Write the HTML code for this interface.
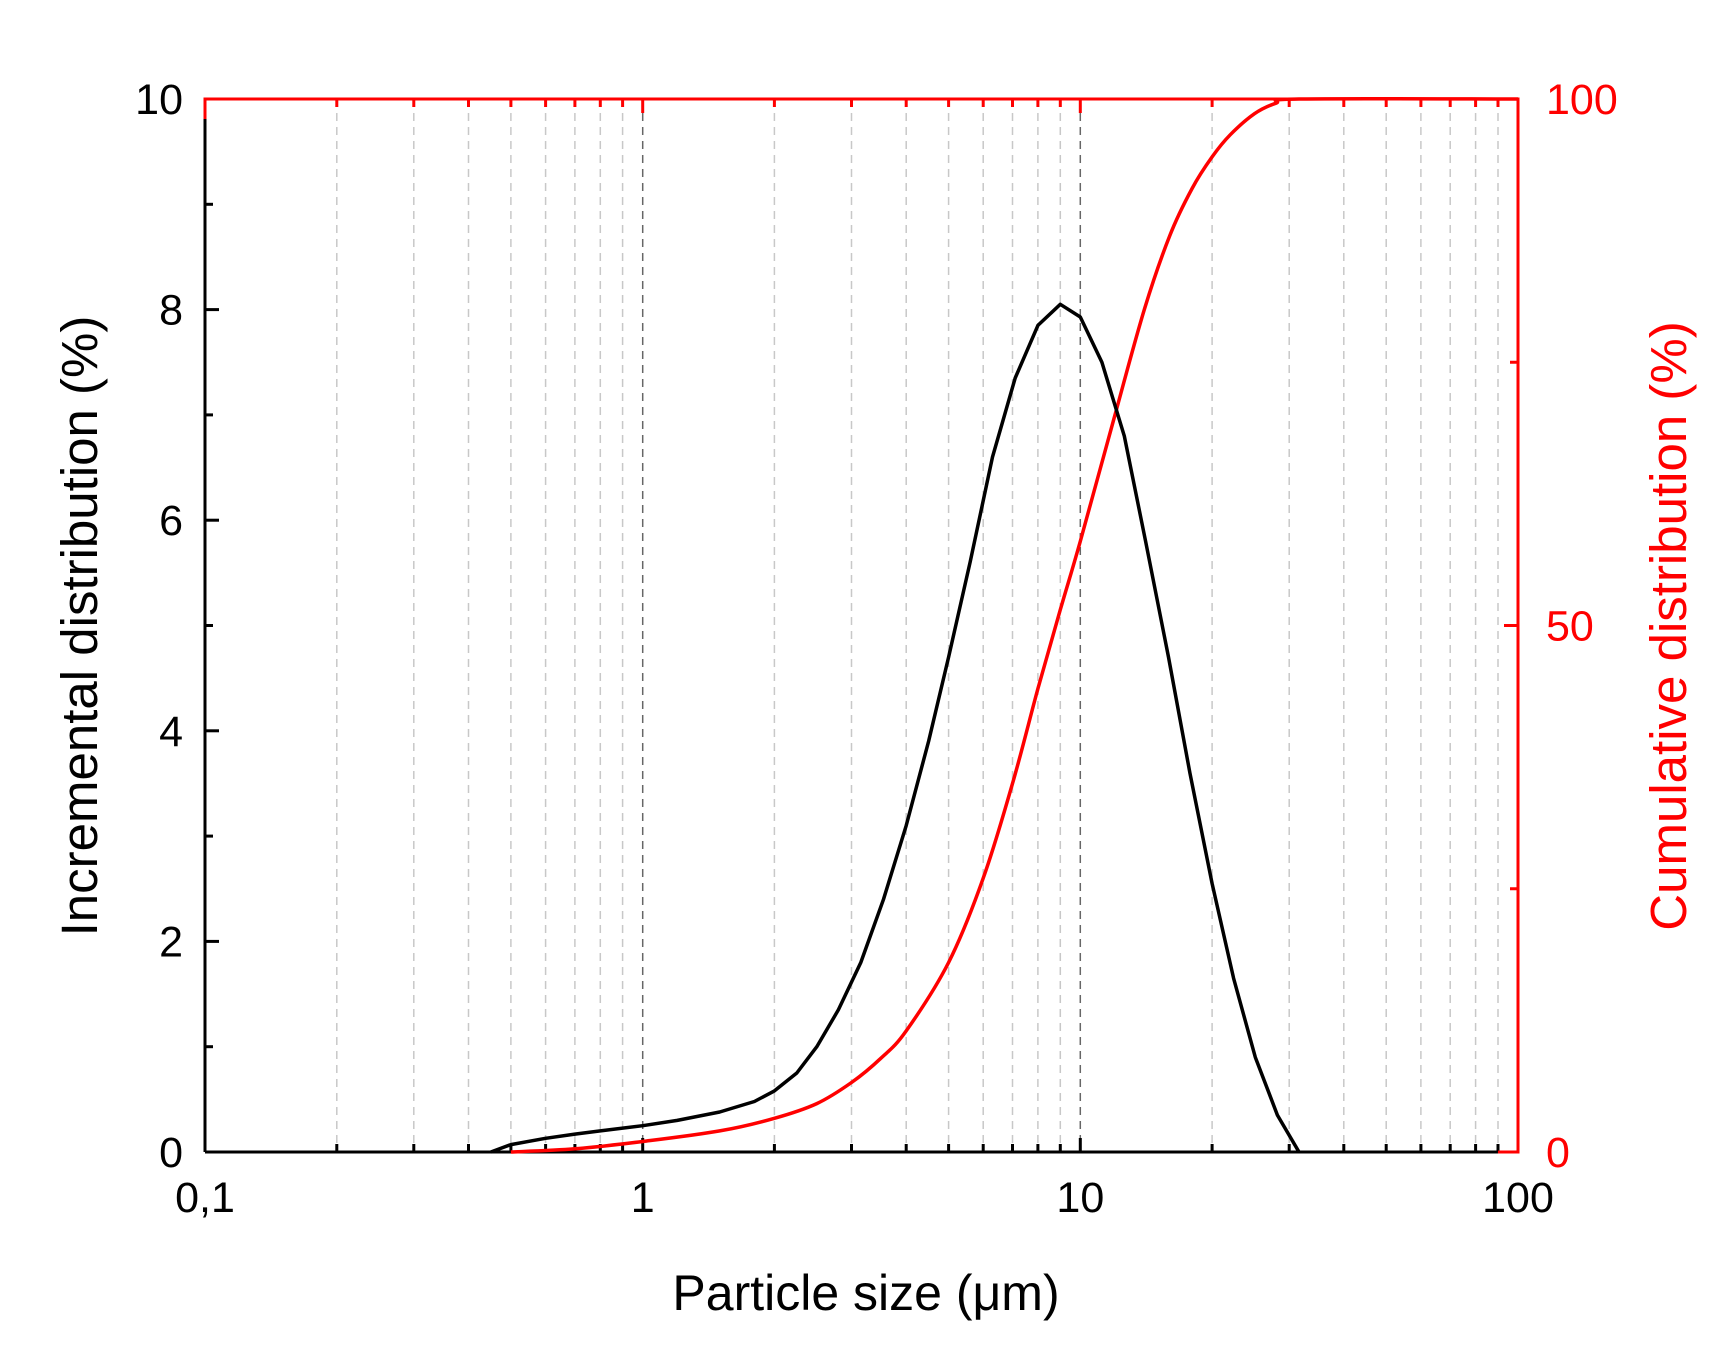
<!DOCTYPE html>
<html><head><meta charset="utf-8"><style>
html,body{margin:0;padding:0;background:#fff;}
svg{display:block;font-family:"Liberation Sans",Arial,sans-serif;}
</style></head><body>
<svg id="s" width="1734" height="1362" viewBox="0 0 1734 1362" xmlns="http://www.w3.org/2000/svg"></svg>
<script>
const L=205,R=1518,T=99,B=1152;
const X=v=>L+(Math.log10(v)+1)*(R-L)/3;
const Y=v=>B-v*(B-T)/10;
const YR=v=>B-v*(B-T)/100;
let h='';
for(let d=0.1;d<100;d*=10){for(let k=1;k<=9;k++){const v=d*k;if(k==1&&d==0.1)continue;const x=X(v).toFixed(1);
const c=(k==1)?'#666':'#c8c8c8';
h+=`<line x1="${x}" y1="${T}" x2="${x}" y2="${B}" stroke="${c}" stroke-width="1.5" stroke-dasharray="8,6"/>`;
h+=`<line x1="${x}" y1="${B}" x2="${x}" y2="${B-(k==1?14:8)}" stroke="#000" stroke-width="3"/>`;
h+=`<line x1="${x}" y1="${T}" x2="${x}" y2="${T+(k==1?14:8)}" stroke="red" stroke-width="3"/>`;}}
for(let i=0;i<=10;i++){const y=Y(i);h+=`<line x1="${L}" y1="${y}" x2="${L+(i%2==0?14:8)}" y2="${y}" stroke="#000" stroke-width="3"/>`;
if(i%2==0)h+=`<text x="183" y="${y+15}" font-size="43" text-anchor="end">${i}</text>`;}
for(let i=0;i<=100;i+=25){const y=YR(i);h+=`<line x1="${R}" y1="${y}" x2="${R-(i%50==0?14:8)}" y2="${y}" stroke="red" stroke-width="3"/>`;
if(i%50==0)h+=`<text x="1546" y="${y+15}" font-size="43" fill="red">${i}</text>`;}
h+=`<line x1="${L}" y1="${B}" x2="${X(90)}" y2="${B}" stroke="#000" stroke-width="3"/>`;
h+=`<polyline points="${X(90)},${B} ${R},${B} ${R},${T} ${L},${T} ${L},${T+20}" fill="none" stroke="red" stroke-width="3"/>`;
h+=`<line x1="${L}" y1="${T+20}" x2="${L}" y2="${B}" stroke="#000" stroke-width="3"/>`;
[[0.1,'0,1'],[1,'1'],[10,'10'],[100,'100']].forEach(([v,t])=>h+=`<text x="${X(v)}" y="1212" font-size="43" text-anchor="middle">${t}</text>`);
h+=`<text x="866" y="1310" font-size="50" text-anchor="middle">Particle size (μm)</text>`;
h+=`<text transform="translate(97,626) rotate(-90)" font-size="51" text-anchor="middle">Incremental distribution (%)</text>`;
h+=`<text transform="translate(1686,626) rotate(-90)" font-size="51" text-anchor="middle" fill="red">Cumulative distribution (%)</text>`;
const inc=[[0.45,0],[0.5,0.07],[0.6,0.13],[0.7,0.17],[0.8,0.2],[1,0.25],[1.2,0.3],[1.5,0.38],[1.8,0.48],[2,0.58],[2.25,0.75],[2.5,1.0],[2.8,1.35],[3.15,1.8],[3.55,2.4],[4,3.1],[4.5,3.9],[5,4.7],[5.6,5.6],[6.3,6.6],[7.1,7.35],[8,7.85],[9,8.05],[10,7.93],[11.2,7.5],[12.6,6.8],[14.1,5.8],[15.9,4.7],[17.8,3.6],[20,2.55],[22.4,1.65],[25.1,0.9],[28.2,0.35],[31.6,0]];
const cum=[[0.5,0],[0.7,0.3],[1,1],[1.5,2],[2,3.2],[2.5,4.6],[3,6.6],[3.5,8.9],[4,11.5],[5,18],[6,26],[7,35],[8,44],[9,51.5],[10,58],[12,70],[14,80],[16,87],[18,91.5],[20,94.5],[22,96.6],[25,98.6],[28,99.6],[31.6,100],[100,100]];
function smooth(pts,fy){const P=pts.map(p=>[X(p[0]),fy(p[1])]);let d=`M${P[0][0].toFixed(1)},${P[0][1].toFixed(1)}`;
for(let i=0;i<P.length-1;i++){const p0=P[i-1]||P[i],p1=P[i],p2=P[i+1],p3=P[i+2]||P[i+1];
const c1=[p1[0]+(p2[0]-p0[0])/6,p1[1]+(p2[1]-p0[1])/6],c2=[p2[0]-(p3[0]-p1[0])/6,p2[1]-(p3[1]-p1[1])/6];
d+=` C${c1[0].toFixed(1)},${c1[1].toFixed(1)} ${c2[0].toFixed(1)},${c2[1].toFixed(1)} ${p2[0].toFixed(1)},${p2[1].toFixed(1)}`;}return d;}
h+=`<path d="${smooth(cum,YR)}" fill="none" stroke="red" stroke-width="3.5"/>`;
h+=`<polyline points="${inc.map(p=>X(p[0]).toFixed(1)+','+Y(p[1]).toFixed(1)).join(' ')}" fill="none" stroke="#000" stroke-width="3.5" stroke-linejoin="round"/>`;
document.getElementById('s').innerHTML=h;
</script>
</body></html>
